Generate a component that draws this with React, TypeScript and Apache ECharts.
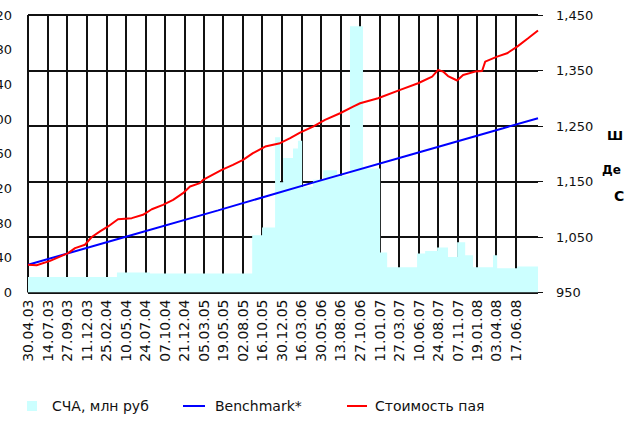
import React, { useEffect, useRef } from "react";
import * as echarts from "echarts";

// ---- data ----
const BASE_DATE = "2003-04-30";
const END_DATE = "2008-09-11";

const xTickLabels = [
  "30.04.03", "14.07.03", "27.09.03", "11.12.03", "25.02.04", "10.05.04",
  "24.07.04", "07.10.04", "21.12.04", "05.03.05", "19.05.05", "02.08.05",
  "16.10.05", "30.12.05", "16.03.06", "30.05.06", "13.08.06", "27.10.06",
  "11.01.07", "27.03.07", "10.06.07", "24.08.07", "07.11.07", "19.01.08",
  "03.04.08", "17.06.08",
];

const leftAxis = { min: 0, max: 320, step: 40 };
const rightAxis = { min: 950, max: 1450, step: 100 };

// СЧА, млн руб (step area, left axis)
const navDates = [
  "2003-04-30", "2004-04-06", "2004-08-11", "2005-09-08", "2005-10-16",
  "2005-12-05", "2005-12-24", "2006-01-05", "2006-02-12", "2006-03-03",
  "2006-03-19", "2006-04-30", "2006-06-08", "2006-07-31", "2006-09-19",
  "2006-11-08", "2007-01-13", "2007-02-09", "2007-06-04", "2007-07-05",
  "2007-08-20", "2007-10-01", "2007-11-05", "2007-12-06", "2008-01-05",
  "2008-03-22", "2008-04-07", "2008-06-23", "2008-09-11",
];
const navValues = [
  18, 23, 22, 66, 75,
  179, 127, 155, 166, 175,
  122, 130, 141, 135, 307,
  143, 46, 29, 45, 48,
  52, 41, 58, 43, 29,
  43, 28, 30, 30,
];

// Benchmark* (right axis)
const benchDates = [
  "2003-04-30", "2004-04-30", "2005-04-30", "2006-04-30", "2007-04-30",
  "2008-04-30", "2008-09-11",
];
const benchValues = [1000, 1049, 1098, 1148, 1197, 1246, 1264];

// Стоимость пая (right axis)
const unitDates = [
  "2003-04-30", "2003-06-02", "2003-07-24", "2003-10-01", "2003-10-28",
  "2003-12-05", "2003-12-31", "2004-02-01", "2004-03-03", "2004-04-10",
  "2004-06-02", "2004-07-15", "2004-08-18", "2004-09-30", "2004-11-08",
  "2004-12-16", "2005-01-12", "2005-02-19", "2005-03-03", "2005-05-14",
  "2005-06-26", "2005-08-04", "2005-09-11", "2005-10-28", "2005-12-24",
  "2006-02-01", "2006-03-11", "2006-04-30", "2006-06-15", "2006-08-12",
  "2006-10-01", "2006-10-28", "2007-01-05", "2007-03-31", "2007-06-08",
  "2007-08-01", "2007-08-24", "2007-09-12", "2007-10-01", "2007-11-05",
  "2007-11-28", "2008-01-13", "2008-02-09", "2008-02-21", "2008-04-07",
  "2008-05-15", "2008-06-23", "2008-08-04", "2008-09-11",
];
const unitValues = [
  1000, 999, 1007, 1021, 1030,
  1036, 1050, 1060, 1069, 1082,
  1084, 1090, 1100, 1108, 1117,
  1129, 1141, 1147, 1153, 1171,
  1180, 1189, 1201, 1213, 1219,
  1228, 1238, 1249, 1261, 1273,
  1285, 1291, 1300, 1315, 1327,
  1339, 1351, 1348, 1340, 1332,
  1342, 1348, 1349, 1366, 1375,
  1381, 1393, 1408, 1422,
];

const legendNames = ["СЧА, млн руб", "Benchmark*", "Стоимость пая"];
const sideTexts = ["Ш", "Де", "С"];

// ---- helpers ----
const DAY = 86400000;
function isoToUtc(iso: string) {
  const [y, m, d] = iso.split("-").map(Number);
  return Date.UTC(y, m - 1, d);
}
function labelToUtc(lbl: string) {
  const [d, m, y] = lbl.split(".").map(Number);
  return Date.UTC(2000 + y, m - 1, d);
}
const base = isoToUtc(BASE_DATE);
const toDay = (iso: string) => Math.round((isoToUtc(iso) - base) / DAY);
const pad = (n: number) => (n < 10 ? "0" + n : "" + n);
function fmtDay(v: number) {
  const d = new Date(base + Math.round(v) * DAY);
  return pad(d.getUTCDate()) + "." + pad(d.getUTCMonth() + 1) + "." + pad(d.getUTCFullYear() % 100);
}
const xTickDays = xTickLabels.map((l) => Math.round((labelToUtc(l) - base) / DAY));

const FONT = "DejaVu Sans";

export default function App() {
  const ref = useRef<HTMLDivElement>(null);
  useEffect(() => {
    if (!ref.current) return;
    const chart = echarts.init(ref.current, undefined, { renderer: "svg" });
    const gridColor = "#111";
    chart.setOption({
      animation: false,
      backgroundColor: "#fff",
      grid: {
        left: 28,
        top: 15,
        right: 88,
        bottom: 129.5,
        containLabel: false,
        outerBoundsMode: "none",
      },
      xAxis: {
        type: "value",
        min: 0,
        max: toDay(END_DATE),
        interval: 75,
        axisLine: { show: false },
        axisTick: { show: false, customValues: xTickDays },
        splitLine: { show: true, lineStyle: { color: gridColor, width: 2 } },
        axisLabel: {
          customValues: xTickDays,
          rotate: 90,
          margin: 7,
          fontFamily: FONT,
          fontSize: 14,
          color: "#111",
          formatter: (v: number) => fmtDay(v),
        },
      },
      yAxis: [
        {
          type: "value",
          position: "left",
          min: leftAxis.min,
          max: leftAxis.max,
          interval: leftAxis.step,
          axisLine: { show: false },
          axisTick: { show: false },
          splitLine: { show: false },
          axisLabel: { margin: 16, fontFamily: FONT, fontSize: 13, color: "#111" },
        },
        {
          type: "value",
          position: "right",
          min: rightAxis.min,
          max: rightAxis.max,
          interval: rightAxis.step,
          axisLine: { show: false },
          axisTick: { show: true, length: 5, lineStyle: { color: gridColor, width: 1 } },
          splitLine: { show: true, lineStyle: { color: gridColor, width: 2 } },
          axisLabel: {
            margin: 18,
            fontFamily: FONT,
            fontSize: 13,
            color: "#111",
            formatter: (v: number) => v.toLocaleString("en-US"),
          },
        },
      ],
      series: [
        {
          name: legendNames[0],
          type: "line",
          yAxisIndex: 0,
          step: "end",
          showSymbol: false,
          symbol: "none",
          lineStyle: { width: 0, opacity: 0 },
          areaStyle: { color: "#CCFFFF", opacity: 1 },
          data: navDates.map((d, i) => [toDay(d), navValues[i]]),
          z: 1,
        },
        {
          name: legendNames[1],
          type: "line",
          yAxisIndex: 1,
          showSymbol: false,
          symbol: "none",
          lineStyle: { color: "#0000FF", width: 2 },
          data: benchDates.map((d, i) => [toDay(d), benchValues[i]]),
          z: 3,
        },
        {
          name: legendNames[2],
          type: "line",
          yAxisIndex: 1,
          showSymbol: false,
          symbol: "none",
          lineStyle: { color: "#FF0000", width: 2 },
          data: unitDates.map((d, i) => [toDay(d), unitValues[i]]),
          z: 4,
        },
      ],
      graphic: [
        { type: "rect", shape: { x: 27, y: 401, width: 10, height: 10 }, style: { fill: "#CCFFFF" } },
        { type: "text", x: 52, y: 406, style: { text: legendNames[0], font: `14px '${FONT}'`, fill: "#111", verticalAlign: "middle" } },
        { type: "line", shape: { x1: 183, y1: 406, x2: 205, y2: 406 }, style: { stroke: "#0000FF", lineWidth: 2 } },
        { type: "text", x: 215, y: 406, style: { text: legendNames[1], font: `14px '${FONT}'`, fill: "#111", verticalAlign: "middle" } },
        { type: "line", shape: { x1: 347, y1: 406, x2: 367, y2: 406 }, style: { stroke: "#FF0000", lineWidth: 2 } },
        { type: "text", x: 375, y: 406, style: { text: legendNames[2], font: `14px '${FONT}'`, fill: "#111", verticalAlign: "middle" } },
        { type: "text", x: 607, y: 135, style: { text: sideTexts[0], font: `bold 13px '${FONT}'`, fill: "#000", verticalAlign: "middle" } },
        { type: "text", x: 602, y: 170, style: { text: sideTexts[1], font: `bold 12px '${FONT}'`, fill: "#000", verticalAlign: "middle" } },
        { type: "text", x: 614, y: 196, style: { text: sideTexts[2], font: `bold 14px '${FONT}'`, fill: "#000", verticalAlign: "middle" } },
      ],
    });
    return () => chart.dispose();
  }, []);
  return (
    <div
      ref={ref}
      style={{ position: "fixed", left: 0, top: 0, width: 626, height: 422, background: "#fff" }}
    />
  );
}
